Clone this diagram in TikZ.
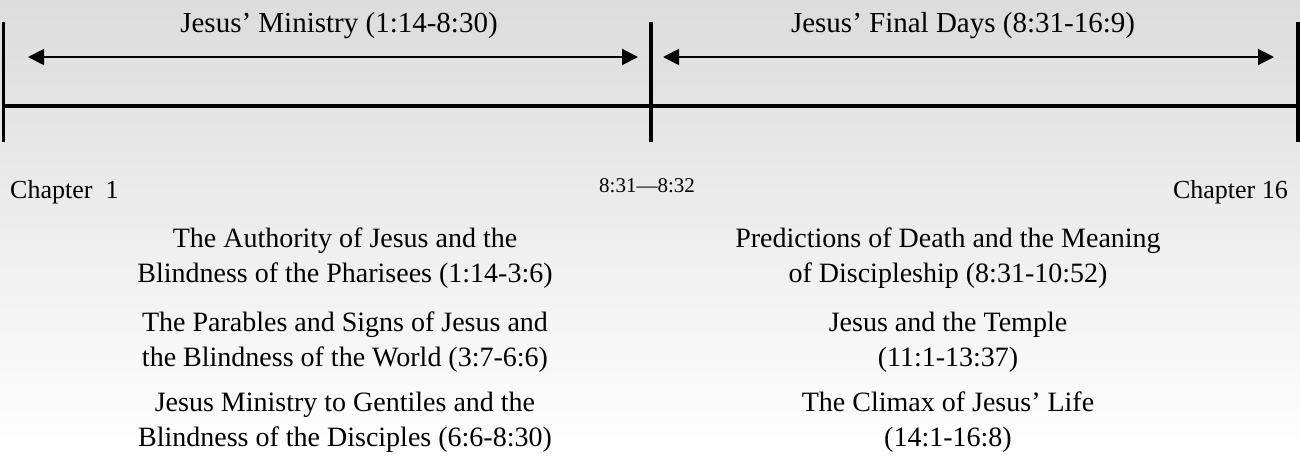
\documentclass[tikz,border=0pt]{standalone}
\usepackage{fontspec}
\setmainfont{Liberation Serif}
\usetikzlibrary{arrows.meta}
\definecolor{bgtop}{RGB}{220,220,220}
\definecolor{bgbot}{RGB}{255,255,255}
\tikzset{
  bar/.style={line width=3.5pt},
  span/.style={line width=2pt,{Triangle[length=16pt,width=16pt]}-{Triangle[length=16pt,width=16pt]}},
  head/.style={font=\fontsize{29}{35}\selectfont,inner sep=0pt,anchor=base},
  chap/.style={font=\fontsize{26}{30}\selectfont,inner sep=0pt,anchor=base},
  mid/.style={font=\fontsize{21}{25}\selectfont,inner sep=0pt,anchor=base},
  sect/.style={font=\fontsize{28}{35}\selectfont,inner sep=0pt,anchor=base,align=center},
}
\begin{document}
\begin{tikzpicture}[x=1pt,y=-1pt]
\useasboundingbox (0,0) rectangle (1300,456);
\shade[top color=bgtop,bottom color=bgbot] (0,0) rectangle (1300,456);
% tick coordinates
\coordinate (lt) at (3.7,22); \coordinate (lb) at (3.7,142);
\coordinate (mt) at (651,22); \coordinate (mb) at (651,142);
\coordinate (rt) at (1298,22); \coordinate (rb) at (1298,142);
\coordinate (hl) at (2,106); \coordinate (hr) at (1300,106);
\coordinate (a1) at (28,57); \coordinate (a2) at (638,57);
\coordinate (b1) at (663,57); \coordinate (b2) at (1274,57);
\draw[bar] (lt) -- (lb);
\draw[bar] (mt) -- (mb);
\draw[bar] (rt) -- (rb);
\draw[bar] (hl) -- (hr);
\draw[span] (a1) -- (a2);
\draw[span] (b1) -- (b2);
\node[head] (h1) at (339,32) {Jesus’ Ministry (1:14-8:30)};
\node[head] (h2) at (963,32) {Jesus’ Final Days (8:31-16:9)};
\node[chap,anchor=base west] (c1) at (10,198) {Chapter\ \ 1};
\node[mid] (c2) at (647,192) {8:31—8:32};
\node[chap,anchor=base east] (c3) at (1288,198) {Chapter\ 16};
\node[sect] (s1) at (345,282) {The Authority of Jesus and the\\Blindness of the Pharisees (1:14-3:6)};
\node[sect] (s2) at (345,366) {The Parables and Signs of Jesus and\\the Blindness of the World (3:7-6:6)};
\node[sect] (s3) at (345,446) {Jesus Ministry to Gentiles and the\\Blindness of the Disciples (6:6-8:30)};
\node[sect] (s4) at (948,282) {Predictions of Death and the Meaning\\of Discipleship (8:31-10:52)};
\node[sect] (s5) at (948,366) {Jesus and the Temple\\(11:1-13:37)};
\node[sect] (s6) at (948,446) {The Climax of Jesus’ Life\\(14:1-16:8)};
\end{tikzpicture}
\end{document}
